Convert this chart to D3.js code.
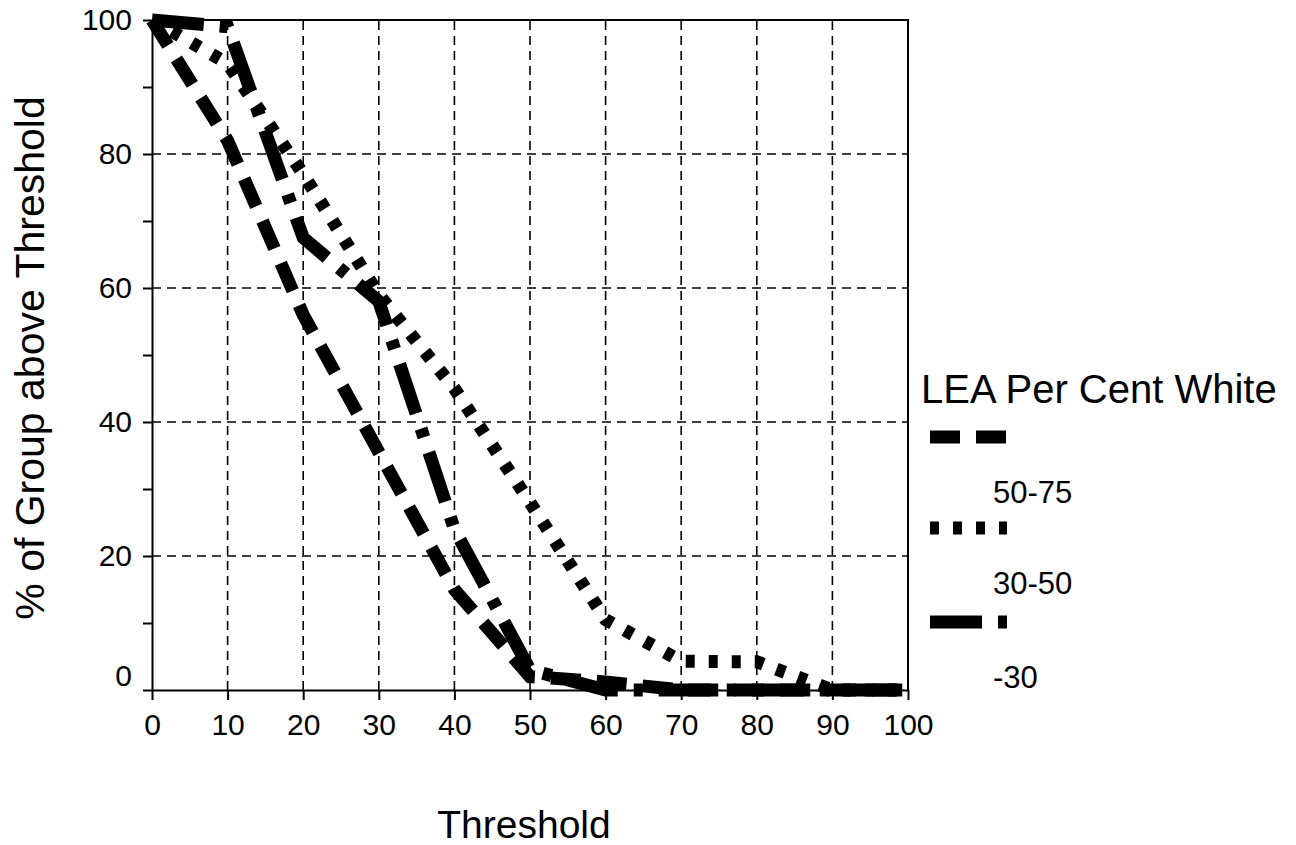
<html>
  <head>
    <style>
      body { margin: 0; background: #fff; }
      text { font-family: "Liberation Sans", Arial, sans-serif; fill: #000; }
      .tick-text { font-size: 30px; }
      .axis-title { font-size: 39px; }
      .y-title { font-size: 41px; }
      .legend-title { font-size: 40px; }
      .legend-text { font-size: 31px; }
    </style>
  </head>
  <body>
    <div id="chart"></div>
    <script src="https://d3js.org/d3.v7.min.js"></script>
    <script>
        // thresholds (x) and % of group above threshold for each LEA band
        var thresholds = [0, 10, 20, 30, 40, 50, 60, 70, 80, 90, 100];
        var white5075  = [100, 82, 56, 35.5, 15, 2, 1.2, 0, 0, 0, 0];
        var white3050  = [100, 93.5, 77, 59, 45, 28, 10.5, 4.3, 4.2, 0, 0];
        var whiteTo30  = [100, 99, 67.5, 58, 24, 3, 0, 0, 0, 0, 0];

        var seriesNames = ["50-75", "30-50", "-30"];
        var seriesValues = [white5075, white3050, whiteTo30];
        var dashes = ["30,16", "9,14", "52,16,9,16"];

        var width = 1296;
        var height = 845;
        var lineWidth = 13;

        var x = d3.scaleLinear().domain([0, 100]).range([152, 908]);
        var y = d3.scaleLinear().domain([0, 100]).range([690, 20]);

        var svg = d3.select("#chart")
          .append("svg")
          .attr("width", width)
          .attr("height", height);

        // dashed grid
        var grid = svg.append("g");
        grid.selectAll(".vgrid")
          .data(d3.range(10, 100, 10))
          .enter().append("line")
          .attr("x1", d => x(d)).attr("x2", d => x(d))
          .attr("y1", y(0)).attr("y2", y(100))
          .attr("stroke", "#000").attr("stroke-width", 1.6)
          .attr("stroke-dasharray", "9,6");
        grid.selectAll(".hgrid")
          .data(d3.range(20, 100, 20))
          .enter().append("line")
          .attr("x1", x(0)).attr("x2", x(100))
          .attr("y1", d => y(d)).attr("y2", d => y(d))
          .attr("stroke", "#000").attr("stroke-width", 1.6)
          .attr("stroke-dasharray", "9,6");

        // frame top & right
        svg.append("path")
          .attr("d", "M" + x(0) + "," + y(100) + "H" + x(100) + "V" + y(0))
          .attr("fill", "none").attr("stroke", "#000").attr("stroke-width", 2);

        // axes
        var xAxis = d3.axisBottom(x)
          .tickValues(d3.range(0, 101, 10))
          .tickSize(10).tickSizeOuter(0).tickPadding(14);
        var yAxis = d3.axisLeft(y)
          .tickValues(d3.range(0, 101, 10))
          .tickSize(9).tickSizeOuter(0).tickPadding(11)
          .tickFormat(d => d % 20 === 0 ? d : "");

        var gx = svg.append("g").attr("transform", "translate(0," + y(0) + ")").call(xAxis);
        var gy = svg.append("g").attr("transform", "translate(" + x(0) + ",0)").call(yAxis);

        [gx, gy].forEach(function(g) {
          g.selectAll("path, line").attr("stroke", "#000").attr("stroke-width", 2);
          g.selectAll("text").attr("class", "tick-text");
        });
        // the 0 label sits a bit above the axis line
        gy.selectAll("text").filter(d => d === 0).attr("dy", "-0.15em");

        // series lines
        var line = d3.line()
          .x((d, i) => x(thresholds[i]))
          .y(d => y(d));

        svg.selectAll(".series")
          .data(seriesValues)
          .enter().append("path")
          .attr("class", "series")
          .attr("d", d => line(d))
          .attr("fill", "none")
          .attr("stroke", "#000")
          .attr("stroke-width", lineWidth)
          .attr("stroke-dasharray", (d, i) => dashes[i]);

        // axis titles
        svg.append("text")
          .attr("class", "axis-title")
          .attr("text-anchor", "middle")
          .attr("x", 524).attr("y", 838)
          .text("Threshold");

        svg.append("text")
          .attr("class", "y-title")
          .attr("text-anchor", "middle")
          .attr("transform", "translate(44,358) rotate(-90)")
          .text("% of Group above Threshold");

        // legend
        var legend = svg.append("g");
        legend.append("text")
          .attr("class", "legend-title")
          .attr("x", 921).attr("y", 403)
          .text("LEA Per Cent White");

        var legendRowY = [437, 528, 622];
        var legendItems = legend.selectAll(".item")
          .data(seriesNames)
          .enter().append("g");

        legendItems.append("line")
          .attr("x1", 930).attr("x2", 1007)
          .attr("y1", (d, i) => legendRowY[i]).attr("y2", (d, i) => legendRowY[i])
          .attr("stroke", "#000")
          .attr("stroke-width", lineWidth)
          .attr("stroke-dasharray", (d, i) => dashes[i]);

        legendItems.append("text")
          .attr("class", "legend-text")
          .attr("x", 993)
          .attr("y", (d, i) => legendRowY[i] + 66)
          .text(d => d);
    </script>
  </body>
</html>
